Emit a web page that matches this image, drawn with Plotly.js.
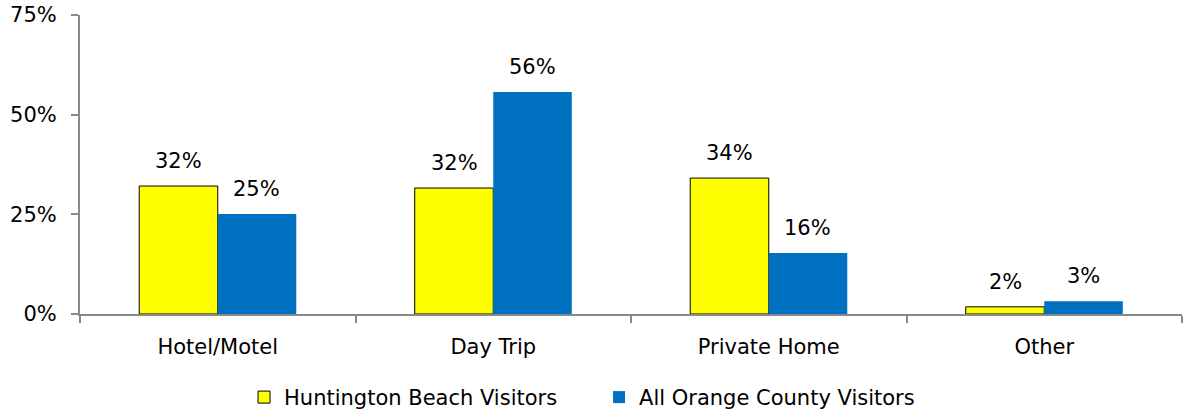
<!DOCTYPE html>
<html>
<head>
<meta charset="utf-8">
<script src="https://cdn.plot.ly/plotly-3.0.1.min.js"></script>
<style>html,body{margin:0;padding:0;background:#fff;}#chart{width:1184px;height:414px;}</style>
</head>
<body>
<div id="chart"></div>
<script>
var categories = ["Hotel/Motel", "Day Trip", "Private Home", "Other"];
var hbValues = [32.1, 31.6, 34.1, 1.8];
var ocValues = [25.1, 55.7, 15.3, 3.2];
var hbLabels = ["32%", "32%", "34%", "2%"];
var ocLabels = ["25%", "56%", "16%", "3%"];
var seriesNames = ["Huntington Beach Visitors", "All Orange County Visitors"];
var yTickVals = [0, 25, 50, 75];
var yTickText = ["0%", "25%", "50%", "75%"];

var FONT = "DejaVu Sans, sans-serif";
var FS = 21;
var axisGray = "#898989";

var traces = [
  {type: "bar", name: seriesNames[0], x: categories, y: hbValues,
   marker: {color: "#FFFF00", line: {color: "#000000", width: 1}}, hoverinfo: "none"},
  {type: "bar", name: seriesNames[1], x: categories, y: ocValues,
   marker: {color: "#0070C0", line: {width: 0}}, hoverinfo: "none"}
];

var annotations = [];
var half = 39;
categories.forEach(function(c, i) {
  annotations.push({x: c, y: hbValues[i], xref: "x", yref: "y", text: hbLabels[i], showarrow: false,
    xshift: -half, yshift: 11, yanchor: "bottom", font: {family: FONT, size: FS, color: "#000"}});
  annotations.push({x: c, y: ocValues[i], xref: "x", yref: "y", text: ocLabels[i], showarrow: false,
    xshift: half, yshift: 11, yanchor: "bottom", font: {family: FONT, size: FS, color: "#000"}});
});

var layout = {
  width: 1184, height: 414,
  margin: {l: 80, r: 2, t: 15, b: 100, autoexpand: false},
  paper_bgcolor: "#fff", plot_bgcolor: "#fff",
  barmode: "group", bargap: 0.43, bargroupgap: 0,
  font: {family: FONT, size: FS, color: "#000"},
  showlegend: true,
  legend: {orientation: "h", x: 0.471, xanchor: "center", xref: "paper", yref: "container", y: 0.04, yanchor: "middle",
    font: {family: FONT, size: FS, color: "#000"}, entrywidth: 310, itemwidth: 30},
  xaxis: {type: "category", showline: true, linecolor: axisGray, linewidth: 2,
    ticks: "outside", tickson: "boundaries", ticklen: 7, tickcolor: axisGray, tickwidth: 2,
    showgrid: false, zeroline: false, ticklabelstandoff: 13, automargin: false,
    tickfont: {family: FONT, size: FS, color: "#000"}},
  yaxis: {range: [0, 75], tickvals: yTickVals, ticktext: yTickText, showline: true, automargin: false,
    linecolor: axisGray, linewidth: 2, ticks: "outside", ticklen: 7, tickcolor: axisGray, tickwidth: 2,
    showgrid: false, zeroline: false, ticklabelstandoff: 10,
    tickfont: {family: FONT, size: FS, color: "#000"}},
  annotations: annotations
};

Plotly.newPlot("chart", traces, layout, {displayModeBar: false, staticPlot: true});
</script>
</body>
</html>
